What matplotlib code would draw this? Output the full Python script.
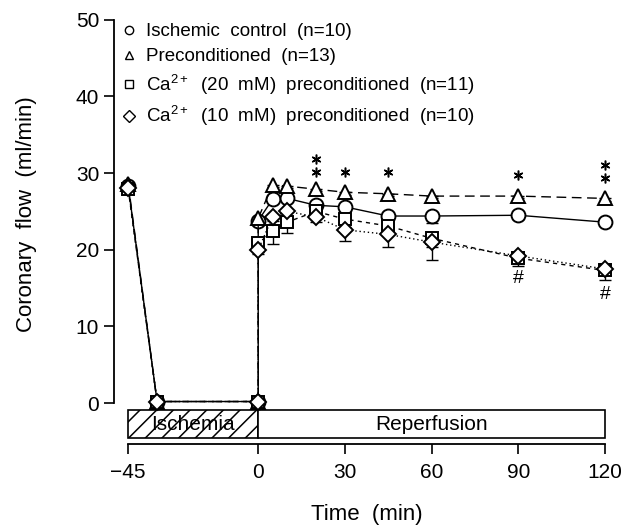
import numpy as np
import matplotlib.pyplot as plt
from matplotlib.patches import Rectangle
from matplotlib.lines import Line2D

plt.rcParams['font.family'] = ['Liberation Sans', 'DejaVu Sans']
plt.rcParams['mathtext.fontset'] = 'custom'
plt.rcParams['mathtext.rm'] = 'Liberation Sans'
plt.rcParams['mathtext.it'] = 'Liberation Sans:italic'
plt.rcParams['hatch.linewidth'] = 1.1

# Time points (min); two values at 0 = end of ischemia and start of reperfusion
time = [-45, -35, 0, 0, 5, 10, 20, 30, 45, 60, 90, 120]

control = [28.3, 0.2, 0.2, 23.8, 26.6, 26.7, 25.8, 25.6, 24.4, 24.4, 24.5, 23.6]
precond = [28.6, 0.2, 0.2, 24.1, 28.5, 28.3, 27.9, 27.5, 27.3, 27.0, 27.0, 26.7]
ca20 = [27.9, 0.2, 0.2, 20.9, 22.4, 23.6, 25.0, 24.0, 23.1, 21.5, 18.9, 17.3]
ca10 = [28.1, 0.2, 0.2, 20.0, 24.3, 25.0, 24.3, 22.6, 22.0, 21.0, 19.2, 17.5]

# lower error bars (SEM)
control_err = [0, 0, 0, 0.6, 0.4, 0.4, 0.4, 0.5, 0.5, 0.9, 0.5, 0.4]
precond_err = [0, 0, 0, 0.4, 0.3, 0.3, 0.3, 0.3, 0.3, 0.3, 0.3, 0.3]
ca20_err = [0, 0, 0, 1.2, 1.6, 1.4, 0.8, 1.0, 1.0, 1.2, 1.0, 1.3]
ca10_err = [0, 0, 0, 0.5, 0.6, 0.6, 0.7, 1.4, 1.6, 2.3, 0.7, 0.8]

labels = ["Ischemic  control  (n=10)", "Preconditioned  (n=13)",
          "Ca$^{2+}$  (20  mM)  preconditioned  (n=11)",
          "Ca$^{2+}$  (10  mM)  preconditioned  (n=10)"]

# significance marks
star_t = [20, 20, 30, 45, 90, 120, 120]
star_y = [30.1, 31.8, 30.2, 30.2, 29.7, 29.4, 31.1]
hash_t = [90, 120]
hash_y = [16.3, 14.2]

fig = plt.figure(figsize=(6.32, 5.27), dpi=100)
ax = fig.add_axes([0.18, 0.145, 0.80, 0.832])

series = [
    (control, control_err, "o", "-"),
    (precond, precond_err, "^", (0, (7, 4))),
    (ca20, ca20_err, "s", (0, (3, 3))),
    (ca10, ca10_err, "D", (0, (1, 2))),
]
sizes = {"o": 10, "^": 10, "s": 9, "D": 8}

for vals, err, mk, ls in series:
    err = np.array(err)
    ax.errorbar(time, vals, yerr=[err, np.zeros_like(err)], fmt="none",
                ecolor="black", elinewidth=1.0, capsize=4, capthick=1.0, zorder=2)
    ax.plot(time, vals, color="black", linestyle=ls, linewidth=1.0,
            marker=mk, markersize=sizes[mk], markerfacecolor="white",
            markeredgecolor="black", markeredgewidth=1.4, zorder=3)

ax.plot(star_t, star_y, linestyle="none", marker=(6, 2, 0), markersize=7,
        markeredgewidth=1.1, color="black")
for t, y in zip(hash_t, hash_y):
    ax.text(t, y, "#", ha="center", va="center", fontsize=14)

# ischemia / reperfusion bar
ax.add_patch(Rectangle((-45, -4.6), 45, 3.7, facecolor="white", edgecolor="black",
                       hatch="//", linewidth=1.2))
ax.add_patch(Rectangle((0, -4.6), 120, 3.7, facecolor="white", edgecolor="black",
                       linewidth=1.2))
ax.text(-22.5, -2.75, "Ischemia", ha="center", va="center", fontsize=15)
ax.text(60, -2.75, "Reperfusion", ha="center", va="center", fontsize=15)

ax.set_xlim(-50, 125)
ax.set_ylim(-6.2, 51)
ax.spines["top"].set_visible(False)
ax.spines["right"].set_visible(False)
ax.spines["left"].set_bounds(0, 50)
ax.spines["bottom"].set_position(("data", -5.4))
ax.spines["bottom"].set_bounds(-45, 120)
ax.spines["left"].set_linewidth(1.3)
ax.spines["bottom"].set_linewidth(1.3)

ax.set_yticks([0, 10, 20, 30, 40, 50])
ax.set_xticks([-45, 0, 30, 60, 90, 120])
ax.set_xticklabels(["\u221245", "0", "30", "60", "90", "120"])
ax.tick_params(axis="both", labelsize=15, length=7, width=1.2, direction="out")
ax.tick_params(axis="x", pad=6)

ax.set_ylabel("Coronary  flow  (ml/min)", fontsize=16)
ax.yaxis.set_label_coords(-0.152, 0.54)
ax.set_xlabel("Time  (min)", fontsize=16, labelpad=16)

handles = [Line2D([], [], linestyle="none", marker=m, markersize=6,
                  markerfacecolor="white", markeredgecolor="black",
                  markeredgewidth=1.0) for m in ["o", "^", "s", "D"]]
ax.legend(handles, labels, loc="upper left", bbox_to_anchor=(-0.015, 1.0),
          frameon=False, fontsize=13.5, handletextpad=0.3, handlelength=1.2,
          labelspacing=0.4, borderaxespad=0.2)

fig.savefig("out.png", dpi=100)
